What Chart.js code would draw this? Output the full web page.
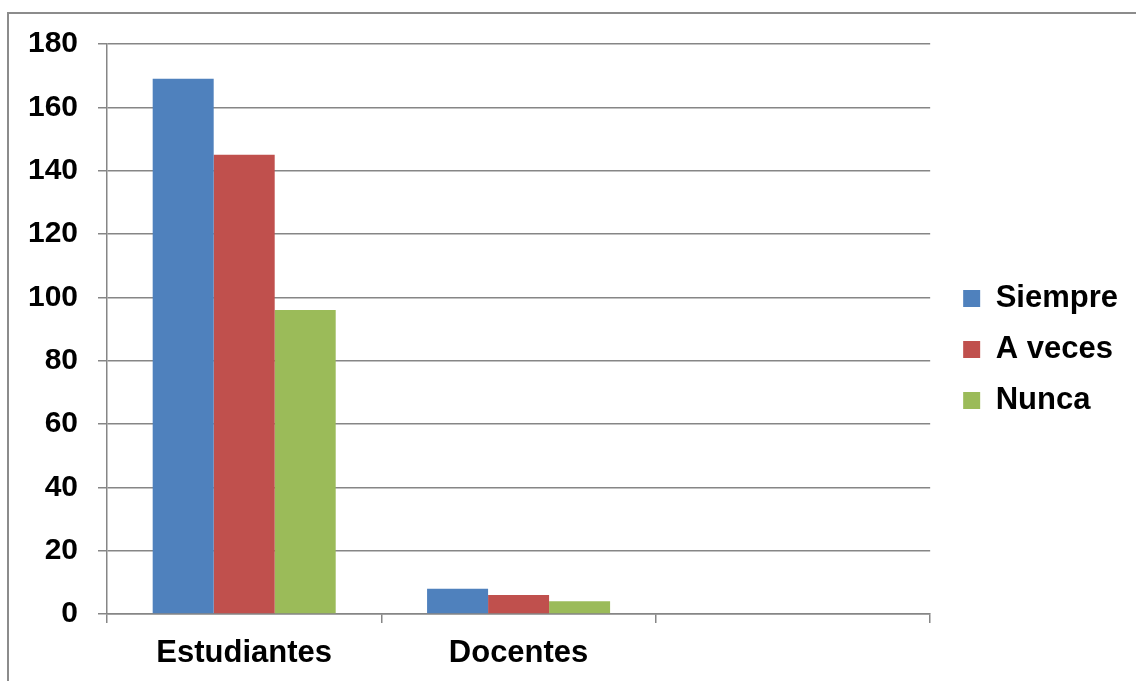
<!DOCTYPE html>
<html>
<head>
<meta charset="utf-8">
<script src="https://cdn.jsdelivr.net/npm/chart.js@4/dist/chart.umd.min.js"></script>
<style>
  html, body { margin: 0; padding: 0; background: #ffffff; }
  #wrap { width: 1136px; height: 681px; position: relative; }
</style>
</head>
<body>
<div id="wrap"><canvas id="chart"></canvas></div>
<script>
// Respuestas por grupo
const categories = ['Estudiantes', 'Docentes', ''];
const siempre = [169, 8, null];
const aVeces = [145, 6, null];
const nunca = [96, 4, null];
const yTicks = [0, 20, 40, 60, 80, 100, 120, 140, 160, 180];

const seriesNames = ['Siempre', 'A veces', 'Nunca'];
const seriesColors = ['#4F81BD', '#C0504D', '#9BBB59'];
const gridGray = '#868686';
const FONT = '"Liberation Sans", Arial, sans-serif';

// Marco exterior (líneas superior e izquierda)
const framePlugin = {
  id: 'frame',
  beforeDraw(chart) {
    const ctx = chart.ctx;
    ctx.save();
    ctx.strokeStyle = '#8c8c8c';
    ctx.lineWidth = 2;
    ctx.beginPath();
    ctx.moveTo(8, chart.height);
    ctx.lineTo(8, 13);
    ctx.lineTo(chart.width, 13);
    ctx.stroke();
    ctx.restore();
  }
};

// Separa la leyenda del área de trazado y la sube un poco
const legendShift = {
  id: 'legendShift',
  afterLayout(chart) {
    const lg = chart.legend;
    if (!lg) return;
    const dx = 13, dy = -13;
    lg.left += dx;
    lg.right += dx;
    lg.top += dy;
    lg.bottom += dy;
  }
};

const datasets = [siempre, aVeces, nunca].map((vals, i) => ({
  label: seriesNames[i],
  data: vals,
  backgroundColor: seriesColors[i],
  borderWidth: 0,
  categoryPercentage: 0.667,
  barPercentage: 1.0
}));

new Chart(document.getElementById('chart'), {
  type: 'bar',
  data: { labels: categories, datasets },
  plugins: [framePlugin, legendShift],
  options: {
    responsive: true,
    maintainAspectRatio: false,
    animation: false,
    layout: { padding: { top: 44, left: 27, right: 21, bottom: 0 } },
    plugins: {
      tooltip: { enabled: false },
      legend: {
        position: 'right',
        align: 'center',
        labels: {
          boxWidth: 17,
          boxHeight: 17,
          padding: 20,
          color: '#000000',
          font: { family: FONT, size: 31, weight: 'bold' }
        }
      }
    },
    scales: {
      x: {
        afterFit(scale) { scale.height = 67; },
        grid: {
          offset: true,
          drawOnChartArea: false,
          drawTicks: true,
          tickLength: 9,
          color: gridGray,
          lineWidth: 1.5
        },
        border: { display: true, color: gridGray, width: 1.5 },
        ticks: {
          padding: 12,
          color: '#000000',
          font: { family: FONT, size: 31, weight: 'bold' }
        }
      },
      y: {
        min: 0,
        max: 180,
        afterFit(scale) { scale.width = 80; },
        afterBuildTicks(scale) { scale.ticks = yTicks.map(v => ({ value: v })); },
        grid: {
          drawOnChartArea: true,
          drawTicks: true,
          tickLength: 9,
          color: gridGray,
          lineWidth: 1.5
        },
        border: { display: true, color: gridGray, width: 1.5 },
        ticks: {
          padding: 20,
          color: '#000000',
          font: { family: FONT, size: 30, weight: 'bold' }
        }
      }
    }
  }
});
</script>
</body>
</html>
